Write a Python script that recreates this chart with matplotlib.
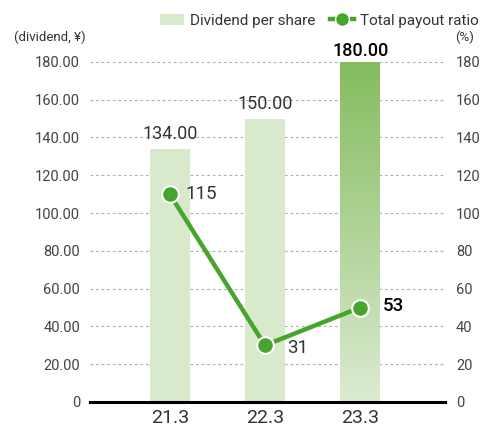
import numpy as np
import matplotlib.pyplot as plt
from matplotlib.lines import Line2D
from matplotlib.patches import Patch
from matplotlib.colors import LinearSegmentedColormap

plt.rcParams['font.family'] = ['Roboto', 'DejaVu Sans']

# data
years = ['21.3', '22.3', '23.3']
dividend = [134.00, 150.00, 180.00]
payout_ratio = [115, 31, 53]          # labels
payout_drawn = [110, 30, 50]          # where the markers sit in the picture
y_ticks = [0, 20, 40, 60, 80, 100, 120, 140, 160, 180]

LIGHT = '#d9e9cc'
LINE = '#47a52d'

fig = plt.figure(figsize=(4.83, 4.36), dpi=100)
ax = fig.add_axes([0.186, 0.078, 0.735, 0.78])
x = np.arange(len(years))

bars = ax.bar(x, dividend, width=0.42, color=LIGHT, zorder=2)

# gradient on the last bar
last = bars[-1]
grad = np.linspace(0, 1, 256).reshape(-1, 1)
cmap = LinearSegmentedColormap.from_list('g', ['#dcebd2', '#84bc5e'])
bx, bw, bh = last.get_x(), last.get_width(), last.get_height()
im = ax.imshow(grad, cmap=cmap, aspect='auto', origin='lower',
               extent=[bx, bx + bw, 0, bh], zorder=2)
im.set_clip_path(last)
last.set_facecolor('none')

for i, v in enumerate(dividend):
    hi = i == len(dividend) - 1
    ax.text(x[i], v + (1 if hi else 3), f'{v:.2f}', ha='center', va='bottom',
            fontsize=13, color='black' if hi else '#333333',
            fontweight='medium' if hi else 'normal')

ax.plot(x, payout_drawn, color=LINE, lw=3.2, marker='o', markersize=12,
        markerfacecolor=LINE, markeredgecolor='white', markeredgewidth=1.5,
        zorder=4)
offsets = [(11, 0), (16, -2), (16, 1)]
for i, v in enumerate(payout_ratio):
    hi = i == len(payout_ratio) - 1
    ax.annotate(str(v), (x[i], payout_drawn[i]), xytext=offsets[i],
                textcoords='offset points', ha='left', va='center',
                fontsize=13.5, color='black' if hi else '#333333',
                fontweight='medium' if hi else 'normal')

ax.set_xlim(-0.84, 2.89)
ax.set_ylim(0, 180)
ax.set_xticks(x)
ax.set_xticklabels(years, fontsize=14, color='#333333')
ax.set_yticks(y_ticks)
ax.set_yticklabels([f'{t:.2f}' if t else '0' for t in y_ticks],
                   fontsize=10.5, color='#444444')
ax.tick_params(axis='both', length=0)
ax.tick_params(axis='y', pad=7)
ax.tick_params(axis='x', pad=5)

ax2 = ax.twinx()
ax2.set_ylim(0, 180)
ax2.set_yticks(y_ticks)
ax2.set_yticklabels([str(t) for t in y_ticks], fontsize=10.5, color='#444444')
ax2.tick_params(length=0, pad=8)

for a in (ax, ax2):
    for s in a.spines.values():
        s.set_visible(False)
ax.spines['bottom'].set_visible(True)
ax.spines['bottom'].set_linewidth(2.2)
ax.spines['bottom'].set_color('black')
ax.spines['bottom'].set_zorder(5)

for t in y_ticks[1:]:
    ax.axhline(t, color='#b0b0b0', lw=0.8, ls=(0, (2.5, 2.5)), zorder=1)

fig.text(0.03, 0.905, '(dividend, ¥)', fontsize=9.5, color='#333333')
fig.text(0.942, 0.905, '(%)', fontsize=9.5, color='#333333')

handles = [Patch(facecolor=LIGHT, edgecolor='none'),
           Line2D([0], [0], color=LINE, lw=3.2, marker='o', markersize=10,
                  markerfacecolor=LINE, markeredgecolor='white')]
fig.legend(handles, ['Dividend per share', 'Total payout ratio'],
           loc='upper right', bbox_to_anchor=(1.02, 1.0), ncol=2, frameon=False,
           fontsize=11, handlelength=1.6, handletextpad=0.4, columnspacing=0.9,
           labelcolor='#333333')

fig.savefig('out.png', dpi=100)
